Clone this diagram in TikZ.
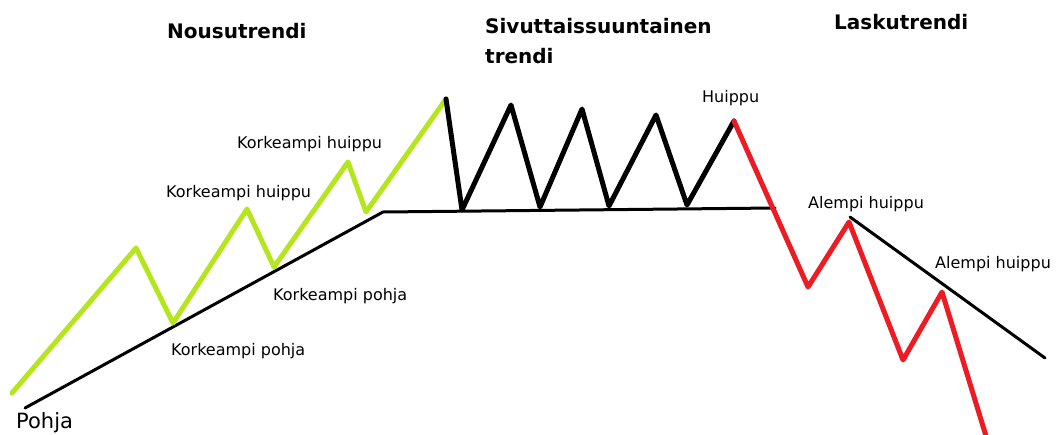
\documentclass[tikz,border=0pt]{standalone}
\usepackage{fontspec}
\setmainfont{DejaVu Sans}
\definecolor{trendgreen}{RGB}{181,230,29}
\definecolor{trendred}{RGB}{237,28,36}
\begin{document}
\begin{tikzpicture}[x=1pt,y=-1pt,
  lbl/.style={anchor=base west,inner sep=0pt,font=\fontsize{16}{19}\selectfont},
  ttl/.style={anchor=base west,inner sep=0pt,font=\fontsize{20}{30}\selectfont\bfseries},
  wave/.style={line width=5pt,line join=round,line cap=round},
  trendline/.style={line width=3pt,black,line cap=round}]
\useasboundingbox (0,0) rectangle (1057,434);
\fill[white] (0,0) rectangle (1057,434);

% uptrend points
\coordinate (g0) at (12,393);
\coordinate (g1) at (136,248);
\coordinate (g2) at (173,323);
\coordinate (g3) at (247,209);
\coordinate (g4) at (274,267);
\coordinate (g5) at (348,162);
\coordinate (g6) at (366,212);
\coordinate (g7) at (446,99);
% sideways points
\coordinate (s1) at (462,210);
\coordinate (s2) at (511,105);
\coordinate (s3) at (540,207);
\coordinate (s4) at (582,109);
\coordinate (s5) at (609,206);
\coordinate (s6) at (656,115);
\coordinate (s7) at (687,205);
\coordinate (s8) at (734,121);
% downtrend points
\coordinate (r1) at (808,287);
\coordinate (r2) at (849,222);
\coordinate (r3) at (903,360);
\coordinate (r4) at (942,292);
\coordinate (r5) at (986,436);
% trend lines
\coordinate (u0) at (25,408);
\coordinate (u1) at (383,212);
\coordinate (h1) at (775,208);
\coordinate (d0) at (850,217);
\coordinate (d1) at (1045,358);

\draw[trendline] (u0) -- (u1) -- (h1);
\draw[trendline] (d0) -- (d1);
\draw[wave,trendgreen] (g0) -- (g1) -- (g2) -- (g3) -- (g4) -- (g5) -- (g6) -- (g7);
\draw[wave,black] (g7) -- (s1) -- (s2) -- (s3) -- (s4) -- (s5) -- (s6) -- (s7) -- (s8);
\draw[wave,trendred] (s8) -- (r1) -- (r2) -- (r3) -- (r4) -- (r5);

% titles
\node[ttl] (t1) at (167,38) {Nousutrendi};
\node[ttl] (t2a) at (485,33) {Sivuttaissuuntainen};
\node[ttl] (t2b) at (485,63) {trendi};
\node[ttl] (t3) at (834,29) {Laskutrendi};

% labels
\node[lbl] (lh1) at (237,148) {Korkeampi huippu};
\node[lbl] (lh2) at (166,197) {Korkeampi huippu};
\node[lbl] (lp1) at (273,300) {Korkeampi pohja};
\node[lbl] (lp2) at (171,355) {Korkeampi pohja};
\node[lbl] (hp) at (702,102) {Huippu};
\node[lbl] (ah1) at (808,208) {Alempi huippu};
\node[lbl] (ah2) at (935,268) {Alempi huippu};
\node[lbl,font=\fontsize{21}{25}\selectfont] (pj) at (16,428) {Pohja};
\end{tikzpicture}
\end{document}
